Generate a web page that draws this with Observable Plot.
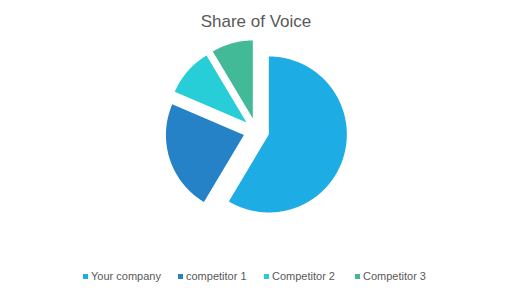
<!DOCTYPE html>
<html><head><meta charset="utf-8">
<script src="https://cdn.jsdelivr.net/npm/d3@7"></script>
<script src="https://cdn.jsdelivr.net/npm/@observablehq/plot@0.6"></script>
<style>
html,body{margin:0;padding:0;background:#fff;}
#wrap{width:512px;height:301px;position:relative;overflow:hidden;font-family:"Liberation Sans",Arial,sans-serif;}
#title{height:36px;text-align:center;color:#595959;font-size:17px;line-height:17px;padding-top:0;box-sizing:border-box;}
#title span{position:relative;top:13px;}
#chart{height:220px;}
#legend{height:45px;position:relative;font-size:11px;color:#595959;}
.item{position:absolute;top:14px;white-space:nowrap;line-height:12px;}
.sw{display:inline-block;width:5px;height:5px;margin-right:3px;vertical-align:1px;}
</style></head>
<body><div id="wrap"><div id="title"><span>Share of Voice</span></div><div id="chart"></div><div id="legend"></div></div>
<script>
const categories = ["Your company", "competitor 1", "Competitor 2", "Competitor 3"];
const values = [8.2, 3.2, 1.4, 1.2];
const colors = ["#1DACE3", "#2682C6", "#27CED7", "#43BA97"];
const titleText = "Share of Voice";

const W = 512, H = 220, R = 78, cx = 255.8, cy = 94.5, explode = 13 / R;
const arcs = d3.pie().sort(null).value(d => d)(values);
const pts = [];
arcs.forEach((a, i) => {
  const mid = (a.startAngle + a.endAngle) / 2;
  const ox = explode * Math.sin(mid), oy = explode * Math.cos(mid);
  pts.push({name: categories[i], x: ox, y: oy});
  const n = Math.max(2, Math.ceil((a.endAngle - a.startAngle) / 0.01));
  for (let k = 0; k <= n; k++) {
    const t = a.startAngle + (a.endAngle - a.startAngle) * k / n;
    pts.push({name: categories[i], x: ox + Math.sin(t), y: oy + Math.cos(t)});
  }
});

const plot = Plot.plot({
  width: W, height: H, margin: 0,
  x: {domain: [-cx / R, (W - cx) / R], axis: null},
  y: {domain: [-(H - cy) / R, cy / R], axis: null},
  color: {domain: categories, range: colors},
  marks: [
    Plot.line(pts, {x: "x", y: "y", z: "name", fill: "name", stroke: "none", curve: "linear-closed"})
  ]
});
document.getElementById("chart").appendChild(plot);

const lx = [83, 178, 264, 355];
const leg = document.getElementById("legend");
categories.forEach((c, i) => {
  const d = document.createElement("div");
  d.className = "item";
  d.style.left = lx[i] + "px";
  d.innerHTML = `<span class="sw" style="background:${colors[i]}"></span>${c}`;
  leg.appendChild(d);
});
</script></body></html>
